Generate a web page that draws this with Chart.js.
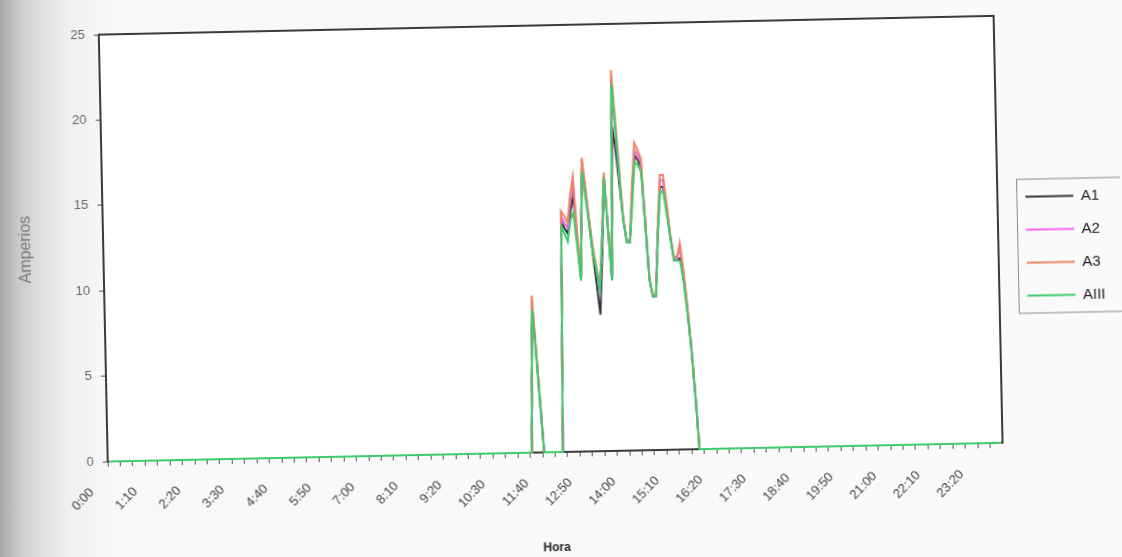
<!DOCTYPE html>
<html><head><meta charset="utf-8">
<script src="https://cdn.jsdelivr.net/npm/chart.js@4.4.1/dist/chart.umd.min.js"></script>
<style>
html,body{margin:0;padding:0;width:1122px;height:557px;overflow:hidden;
background:linear-gradient(to right,#a9a9a9 0px,#c9c9c9 18px,#e0e0e0 42px,#f0f0f0 70px,#f8f8f8 110px,#fafafa 100%);}
#wrap{position:absolute;left:0;top:0;width:1122px;height:557px;transform:rotate(-1.2deg);transform-origin:50% 50%;}
canvas{display:block;}
</style></head><body><div id="wrap"><canvas id="c" width="1122" height="557"></canvas></div>
<script>
// categories: one reading every 5 minutes, 0:00 .. 23:55
const times = [];
for (let m = 0; m < 1440; m += 5) times.push(Math.floor(m / 60) + ':' + String(m % 60).padStart(2, '0'));
const labelEvery = 14; // a label every 70 minutes (0:00, 1:10, 2:20 ...)

// readings that are zero: 0:00 .. 11:20 (137 values) and 15:50 .. 23:55 (98 values)
const nightZeros = [
0,0,0,0,0,0,0,0,0,0, 0,0,0,0,0,0,0,0,0,0, 0,0,0,0,0,0,0,0,0,0, 0,0,0,0,0,0,0,0,0,0,
0,0,0,0,0,0,0,0,0,0, 0,0,0,0,0,0,0,0,0,0, 0,0,0,0,0,0,0,0,0,0, 0,0,0,0,0,0,0,0,0,0,
0,0,0,0,0,0,0,0,0,0, 0,0,0,0,0,0,0,0,0,0, 0,0,0,0,0,0,0,0,0,0, 0,0,0,0,0,0,0,0,0,0,
0,0,0,0,0,0,0,0,0,0, 0,0,0,0,0,0,0];
const eveningZeros = [
0,0,0,0,0,0,0,0,0,0, 0,0,0,0,0,0,0,0,0,0, 0,0,0,0,0,0,0,0,0,0, 0,0,0,0,0,0,0,0,0,0,
0,0,0,0,0,0,0,0,0,0, 0,0,0,0,0,0,0,0,0,0, 0,0,0,0,0,0,0,0,0,0, 0,0,0,0,0,0,0,0,0,0,
0,0,0,0,0,0,0,0,0,0, 0,0,0,0,0,0,0,0];

// readings 11:25 .. 15:45
const dayA1 = [8.9,6.0,3.0,0,0,0,0,0,0,0, 13.5,13.1,12.8,14.0,15.0,12.5,10.1,17.0,15.2,13.3,
 11.5,9.8,8.0,11.5,16.1,13.0,10.0,19.0,17.5,15.5, 13.5,12.2,12.2,15.0,17.3,17.0,16.6,13.4,10.0,9.0,
 9.0,12.7,15.4,15.4,14.0,12.5,11.1,11.1,11.2,10.0, 8.2,6.0,3.2];
const dayA2 = [8.8,6.0,3.0,0,0,0,0,0,0,0, 13.8,13.4,13.1,14.6,15.8,12.8,10.1,17.0,15.3,13.4,
 11.8,10.6,9.4,12.4,16.2,13.0,10.1,21.0,18.8,16.0, 13.5,12.3,12.3,15.2,17.6,17.3,16.9,13.5,10.0,9.0,
 9.0,12.8,15.8,15.8,14.2,12.5,11.2,11.2,11.8,10.3, 8.3,6.0,3.2];
const dayA3 = [9.2,6.2,3.1,0,0,0,0,0,0,0, 14.1,13.8,13.4,15.0,16.1,13.0,10.2,17.2,15.5,13.6,
 12.0,10.8,9.6,12.5,16.3,13.1,10.2,22.3,19.5,16.5, 13.6,12.3,12.3,15.5,18.0,17.6,17.1,13.6,10.1,9.1,
 9.1,13.0,16.1,16.1,14.5,12.6,11.3,11.3,12.1,10.5, 8.5,6.1,3.3];
const dayAIII = [8.4,5.7,2.8,0,0,0,0,0,0,0, 13.2,12.8,12.3,13.6,14.0,12.0,10.0,16.4,14.8,13.2,
 11.6,10.6,9.4,12.3,16.0,12.9,10.0,21.5,19.0,16.0, 13.4,12.2,12.2,14.5,16.9,16.7,16.3,13.3,10.0,9.0,
 9.0,12.5,15.1,15.1,13.8,12.4,11.1,11.1,11.0,9.8, 8.0,5.9,3.1];

const A1 = [...nightZeros, ...dayA1, ...eveningZeros];
const A2 = [...nightZeros, ...dayA2, ...eveningZeros];
const A3 = [...nightZeros, ...dayA3, ...eveningZeros];
const AIII = [...nightZeros, ...dayAIII, ...eveningZeros];

const yTicks = [0, 5, 10, 15, 20, 25];

Chart.defaults.font.family = "'Liberation Sans', Arial, sans-serif";

const framePlugin = {
  id: 'frame',
  beforeDraw(chart) {
    const {ctx, chartArea: a} = chart;
    ctx.save();
    ctx.fillStyle = '#ffffff';
    ctx.fillRect(a.left, a.top, a.right - a.left, a.bottom - a.top);
    ctx.restore();
  },
  afterLayout(chart) {
    const lg = chart.legend;
    lg.left += 10; lg.right += 10; lg.top -= 35; lg.bottom -= 35;
  },
  afterDraw(chart) {
    const {ctx, chartArea: a} = chart;
    ctx.save();
    ctx.strokeStyle = '#3a3a3a';
    ctx.lineWidth = 2;
    ctx.beginPath();
    ctx.moveTo(a.left, a.top);
    ctx.lineTo(a.right, a.top);
    ctx.lineTo(a.right, a.bottom);
    ctx.stroke();
    const hb = chart.legend.legendHitBoxes;
    if (hb && hb.length) {
      const top = hb[0].top + hb[0].height / 2 - 18;
      const bottom = hb[hb.length - 1].top + hb[hb.length - 1].height / 2 + 17;
      const left = hb[0].left - 9;
      ctx.strokeStyle = '#8a8a8a';
      ctx.lineWidth = 1;
      ctx.strokeRect(left + 0.5, top + 0.5, chart.width + 10 - left, bottom - top);
    }
    ctx.restore();
  }
};

const common = {pointRadius: 0, pointHoverRadius: 0, pointBorderWidth: 2, borderWidth: 2, clip: false};

new Chart(document.getElementById('c'), {
  type: 'line',
  data: {
    labels: times,
    datasets: [
      {label: 'A1', data: A1, borderColor: '#34343f', backgroundColor: '#34343f', order: 3, ...common},
      {label: 'A2', data: A2, borderColor: '#f064f0', backgroundColor: '#f064f0', order: 2, ...common},
      {label: 'A3', data: A3, borderColor: '#ee8462', backgroundColor: '#ee8462', order: 1, ...common},
      {label: 'AIII', data: AIII, borderColor: '#3dcc6c', backgroundColor: '#3dcc6c', order: 0, ...common}
    ]
  },
  options: {
    responsive: false,
    animation: false,
    devicePixelRatio: 1,
    layout: {padding: {top: 25, right: 27, bottom: 0, left: 0}},
    elements: {line: {tension: 0}},
    plugins: {
      tooltip: {enabled: false},
      legend: {
        position: 'right',
        maxWidth: 96,
        labels: {
          usePointStyle: true,
          pointStyle: 'line',
          pointStyleWidth: 48,
          padding: 18,
          color: '#222',
          font: {size: 15},
          sort: (a, b) => a.datasetIndex - b.datasetIndex
        }
      }
    },
    scales: {
      x: {
        type: 'category',
        offset: true,
        grid: {
          display: true, drawOnChartArea: false, drawTicks: true, tickLength: 5, offset: true,
          color: c => (c.index % 4 === 0 ? '#555' : 'rgba(0,0,0,0)'), lineWidth: 1
        },
        border: {display: true, color: '#3a3a3a', width: 2},
        ticks: {
          autoSkip: false, maxRotation: 45, minRotation: 45, labelOffset: -18, padding: 18,
          color: '#444', font: {size: 13},
          callback: (v, i) => (i % labelEvery === 0 ? times[i] : '')
        },
        title: {display: true, text: 'Hora', color: '#222', font: {size: 12, weight: 'bold'}, padding: {top: 0, bottom: 2}},
        afterFit: s => { s.height = 105; }
      },
      y: {
        min: 0, max: 25,
        afterBuildTicks: s => { s.ticks = yTicks.map(v => ({value: v})); },
        ticks: {color: '#666', padding: 9, font: {size: 13}},
        grid: {drawOnChartArea: false, tickLength: 5, color: '#555'},
        border: {display: true, color: '#3a3a3a', width: 2},
        title: {display: true, text: 'Amperios', color: '#7a7a7a', font: {size: 16}, padding: {top: 17, bottom: 0}},
        afterFit: s => { s.width = 104; }
      }
    }
  },
  plugins: [framePlugin]
});
</script></body></html>
